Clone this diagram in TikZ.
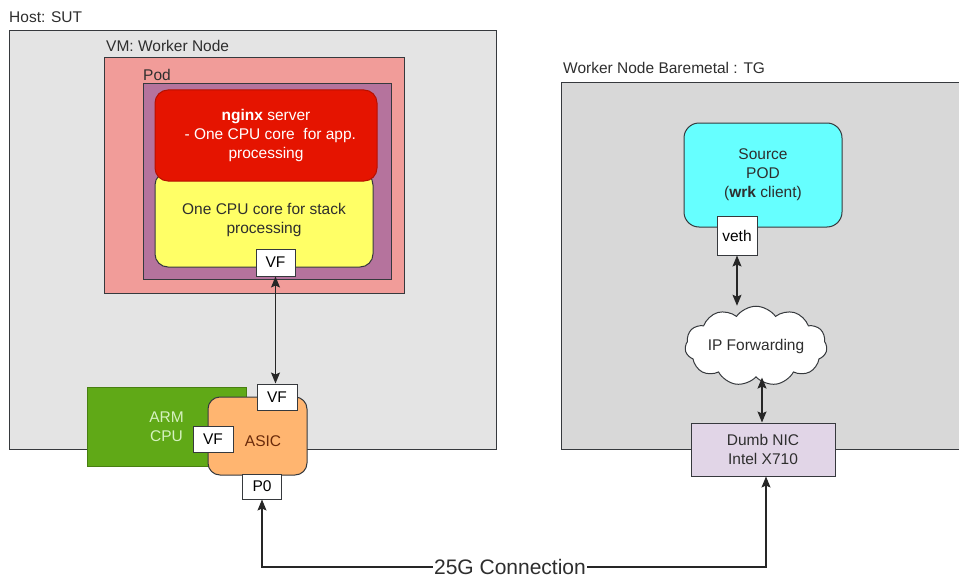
\documentclass[tikz,border=0pt]{standalone}
\usepackage{fontspec}
\setmainfont{Liberation Sans}
\usetikzlibrary{arrows.meta,shapes.symbols,calc}

\definecolor{edgegray}{HTML}{36393D}
\definecolor{txtgray}{HTML}{2E2E2E}
\definecolor{hostfill}{HTML}{E4E4E4}
\definecolor{tgfill}{HTML}{D8D8D8}
\definecolor{vmfill}{HTML}{F19C99}
\definecolor{podfill}{HTML}{B5739D}
\definecolor{nginxfill}{HTML}{E51400}
\definecolor{stackfill}{HTML}{FFFF66}
\definecolor{armfill}{HTML}{60A917}
\definecolor{armtext}{HTML}{D6F2C0}
\definecolor{asicfill}{HTML}{FFB570}
\definecolor{asictext}{HTML}{6A2A0A}
\definecolor{srcfill}{HTML}{66FFFF}
\definecolor{nicfill}{HTML}{E1D5E7}

\tikzset{
  txt/.style={font=\fontsize{15.5}{19}\selectfont, text=txtgray},
  box/.style={draw=edgegray, line width=1pt, inner sep=0pt, txt, align=center},
  port/.style={box, fill=white, text=black},
  grouplabel/.style={txt, anchor=west, inner sep=0pt},
  link/.style={line width=1.2pt, draw=black!85,
    {Stealth[length=11pt,width=9pt,inset=2pt]}-{Stealth[length=11pt,width=9pt,inset=2pt]}},
}

\begin{document}
\begin{tikzpicture}[x=1pt,y=-1pt]
\useasboundingbox (0,0) rectangle (959,578);

% ---------------- SUT host ----------------
\node[grouplabel] (hostlbl) at (9,17) {Host: SUT};
\node[box, fill=hostfill, minimum width=487, minimum height=418] (host) at (252.5,240) {};

\node[grouplabel] (vmlbl) at (106,46) {VM: Worker Node};
\node[box, fill=vmfill, minimum width=300, minimum height=235] (vm) at (254,175.5) {};

\node[grouplabel] (podlbl) at (143,75) {Pod};
\node[box, fill=podfill, minimum width=248, minimum height=195] (pod) at (267,181.5) {};

\node[box, fill=stackfill, rounded corners=13pt, minimum width=218, minimum height=95]
  (stack) at (264,219.5) {One CPU core for stack\\processing};
\node[box, draw=nginxfill!80!black, fill=nginxfill, text=white, rounded corners=13pt,
  minimum width=222, minimum height=91]
  (nginx) at (266,135.5) {\textbf{nginx} server\\\ \ - One CPU core\ \ for app.\\processing};

\node[port, minimum width=39, minimum height=27] (vfpod) at (275.5,262.5) {VF};

% SmartNIC: ARM cores + ASIC
\node[box, draw=armfill!75!black, fill=armfill, text=armtext, minimum width=159, minimum height=79]
  (arm) at (166.5,426.5) {ARM\\CPU};
\node[box, fill=asicfill, rounded corners=12pt, minimum width=99, minimum height=78]
  (asic) at (257.5,436) {};
\node[txt, text=asictext, inner sep=0pt] (asiclbl) at (263,441) {ASIC};
\node[port, minimum width=40, minimum height=26] (vfasic) at (277,397) {VF};
\node[port, minimum width=40, minimum height=26] (vfarm) at (213,439) {VF};
\node[port, minimum width=39, minimum height=25] (p0) at (262,486.5) {P0};

% ---------------- TG baremetal ----------------
\node[grouplabel] (tglbl) at (563,68) {Worker Node Baremetal : TG};
\fill[tgfill] (561,83) rectangle (959,449);
\draw[edgegray, line width=1pt] (965,83) -- (561,83) -- (561,449) -- (965,449);

\node[box, fill=srcfill, rounded corners=15pt, minimum width=158, minimum height=104]
  (src) at (763,175) {Source\\POD\\(\textbf{wrk} client)};
\node[port, minimum width=40, minimum height=39] (veth) at (737,235.5) {veth};

\node[box, fill=white, cloud, cloud puffs=11, cloud puff arc=110, aspect=2.2,
  minimum width=142, minimum height=67] (ipfwd) at (756,346) {IP Forwarding};

\node[box, fill=nicfill, minimum width=144, minimum height=53]
  (nic) at (763,449.5) {Dumb NIC\\Intel X710};

% ---------------- links ----------------
\draw[link] (vfpod.south) -- (vfpod.south |- vfasic.north);
\draw[link] (veth.south) -- (veth.south |- ipfwd.north);
\coordinate (fwdout) at ($(nic.north)+(-1,0)$);
\draw[link] (fwdout |- ipfwd.south) -- (fwdout);

\coordinate (busL) at (262,567);
\coordinate (busR) at (766,567);
\draw[link] (p0.south) -- (busL) -- (busR) -- (busR |- nic.south);
\node[fill=white, inner sep=1pt, font=\fontsize{21}{24}\selectfont, text=txtgray]
  (linklbl) at (510,567) {25G Connection};
\end{tikzpicture}
\end{document}
